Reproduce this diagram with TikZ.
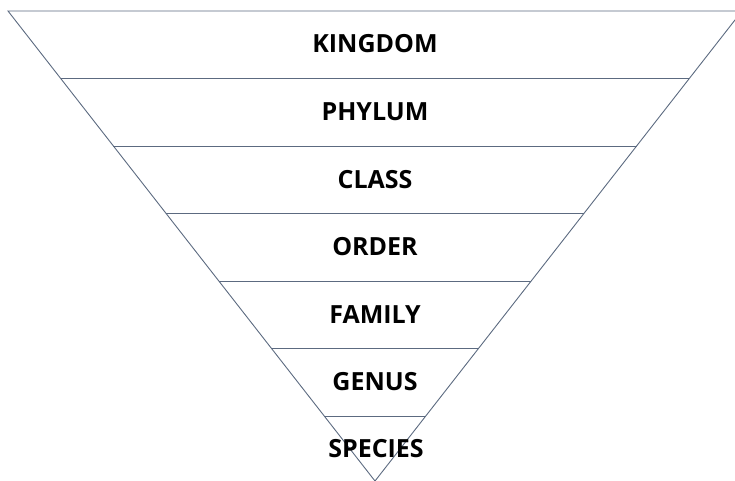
\documentclass[tikz,border=0pt]{standalone}
\usepackage{fontspec}
\setmainfont{Open Sans}
\usetikzlibrary{calc}
\definecolor{edge}{RGB}{92,106,128}
\tikzset{
  edgeline/.style={draw=edge, line width=0.9pt},
  lbl/.style={font=\bfseries\fontsize{25}{25}\selectfont, text=black, inner sep=0pt, anchor=base}
}
\begin{document}
\begin{tikzpicture}[x=1pt,y=-1pt]
\useasboundingbox (0,0) rectangle (735,480);
\clip (0,0) rectangle (735,480);
\coordinate (L) at (8,11);
\coordinate (R) at (742,11);
\coordinate (A) at (375,481);
\draw[edgeline] (L) -- (R) -- (A) -- cycle;
\foreach \k in {1,...,6}{
  \pgfmathsetmacro{\t}{67.5*\k/470}
  \coordinate (l\k) at ($(L)!\t!(A)$);
  \coordinate (r\k) at ($(R)!\t!(A)$);
  \draw[edgeline] (l\k) -- (r\k);
}
\node[lbl] (kingdom) at (375,52.5) {KINGDOM};
\node[lbl] (phylum) at (375,120) {PHYLUM};
\node[lbl] (class) at (375,188) {CLASS};
\node[lbl] (order) at (375,255.5) {ORDER};
\node[lbl] (family) at (375,323) {FAMILY};
\node[lbl] (genus) at (375,390) {GENUS};
\node[lbl] (species) at (376,457.5) {SPECIES};
\end{tikzpicture}
\end{document}
